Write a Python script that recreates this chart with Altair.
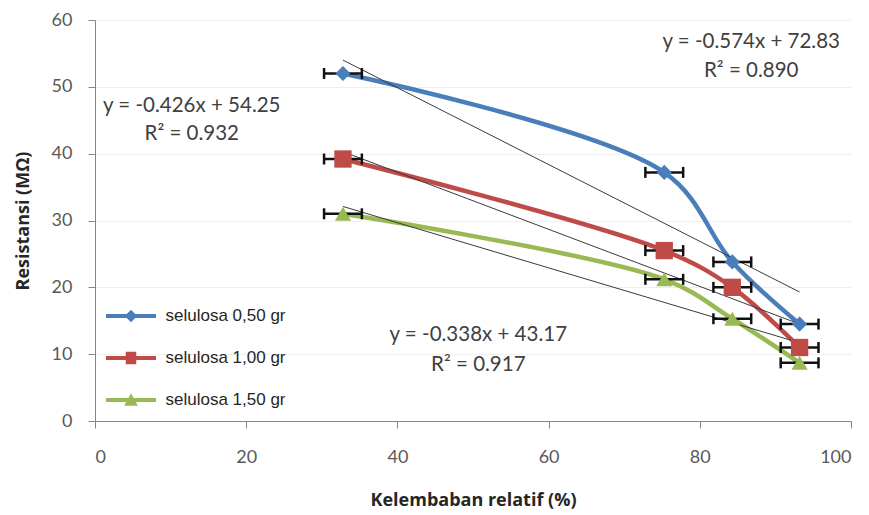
import altair as alt
import pandas as pd

# ---- data ----
series = ["selulosa 0,50 gr", "selulosa 1,00 gr", "selulosa 1,50 gr"]
humidity = [32.8, 75.3, 84.3, 93.2]
res_050 = [52.0, 37.2, 23.8, 14.5]
res_100 = [39.2, 25.5, 20.0, 11.0]
res_150 = [31.0, 21.2, 15.3, 8.7]
x_err = [2.5, 2.5, 2.5, 2.5]

trend_x = [32.8, 93.2]
trend_050 = [54.0, 19.3]
trend_100 = [40.3, 14.5]
trend_150 = [32.1, 11.7]

eq_text = ["y = -0.574x + 72.83", "R² = 0.890",
           "y = -0.426x + 54.25", "R² = 0.932",
           "y = -0.338x + 43.17", "R² = 0.917"]
eq_x = [86.8, 86.8, 12.8, 12.8, 50.7, 50.7]
eq_y = [56.7, 52.3, 47.1, 43.0, 12.8, 8.4]

colors = ["#4a7ebb", "#be4b48", "#98b954"]
marker_shapes = ["diamond", "square", "triangle-up"]
marker_sizes = [230, 300, 260]

# ---- tables ----
rows = []
for s, vals in zip(series, [res_050, res_100, res_150]):
    for xv, yv, e in zip(humidity, vals, x_err):
        rows.append({"series": s, "x": xv, "y": yv, "xerr": e})
df = pd.DataFrame(rows)

trows = []
for s, vals in zip(series, [trend_050, trend_100, trend_150]):
    for xv, yv in zip(trend_x, vals):
        trows.append({"series": s, "x": xv, "y": yv})
tdf = pd.DataFrame(trows)

adf = pd.DataFrame({"text": eq_text, "x": eq_x, "y": eq_y})

xs = alt.Scale(domain=[0, 100], nice=False)
ys = alt.Scale(domain=[0, 60], nice=False)
cs = alt.Scale(domain=series, range=colors)

X = alt.X("x:Q", scale=xs, axis=alt.Axis(values=[0, 20, 40, 60, 80, 100],
                                         title="Kelembaban relatif (%)",
                                         grid=False, tickSize=7, labelPadding=20,
                                         titlePadding=25))
Y = alt.Y("y:Q", scale=ys, axis=alt.Axis(values=[0, 10, 20, 30, 40, 50, 60],
                                         title="Resistansi (MΩ)",
                                         grid=True, tickSize=7, labelPadding=16,
                                         titlePadding=19))

base = alt.Chart(df)

line_layers = []
for s, c in zip(series, colors):
    line_layers.append(
        base.transform_filter(alt.datum.series == s).mark_line(
            strokeWidth=4.5, interpolate="catmull-rom", color=c).encode(x=X, y=Y))

trend = alt.Chart(tdf).mark_line(strokeWidth=1, color="#3a3a3a").encode(
    x="x:Q", y="y:Q", detail="series:N")

err_bar = base.transform_calculate(
    lo="datum.x - datum.xerr", hi="datum.x + datum.xerr"
).mark_rule(strokeWidth=2.5, color="#111111").encode(
    x="lo:Q", x2="hi:Q", y="y:Q")
err_lo = base.transform_calculate(lo="datum.x - datum.xerr").mark_tick(
    orient="vertical", size=11, thickness=2.5, color="#111111", opacity=1).encode(
    x="lo:Q", y="y:Q")
err_hi = base.transform_calculate(hi="datum.x + datum.xerr").mark_tick(
    orient="vertical", size=11, thickness=2.5, color="#111111", opacity=1).encode(
    x="hi:Q", y="y:Q")

point_layers = []
for s, shp, sz, c in zip(series, marker_shapes, marker_sizes, colors):
    point_layers.append(
        base.transform_filter(alt.datum.series == s).mark_point(
            filled=True, opacity=1, shape=shp, size=sz, color=c).encode(
            x="x:Q", y="y:Q"))

line_path = "M-2,-0.16H2V0.16H-2Z"
legend_paths = [
    line_path + " M0,-0.5L0.5,0L0,0.5L-0.5,0Z",
    line_path + " M-0.42,-0.5H0.42V0.5H-0.42Z",
    line_path + " M0,-0.55L0.55,0.45H-0.55Z",
]

leg = alt.Legend(orient="none", legendX=23.5, legendY=283.5, title=None,
                 symbolSize=625, symbolOpacity=1, symbolStrokeWidth=0,
                 labelFont="Liberation Sans", labelFontSize=17, labelColor="#262626",
                 labelOffset=22, rowPadding=21, padding=0)

legend_layer = base.mark_point(filled=True, opacity=0).encode(
    x="x:Q", y="y:Q",
    color=alt.Color("series:N", scale=cs, legend=leg),
    shape=alt.Shape("series:N", scale=alt.Scale(domain=series, range=legend_paths),
                    legend=leg))

annot = alt.Chart(adf).mark_text(font="Lato", fontSize=20.5, color="#404040",
                                 align="center", baseline="middle").encode(
    x="x:Q", y="y:Q", text="text:N")

chart = alt.layer(*line_layers, trend, err_bar, err_lo, err_hi, legend_layer,
                  *point_layers, annot).properties(
    width=756, height=401,
    autosize=alt.AutoSizeParams(type="none"),
    padding={"left": 87, "top": 12, "right": 8, "bottom": 90},
    background="white",
).configure_view(stroke=None).configure_axis(
    domainColor="#868686", tickColor="#868686", gridColor="#efefef",
    labelFont="Lato", labelFontSize=18, labelColor="#595959",
    titleFont="Open Sans", titleFontSize=18, titleFontWeight="bold", titleColor="#262626",
)

chart.save("out.html", embed_options={"renderer": "svg", "actions": False})
